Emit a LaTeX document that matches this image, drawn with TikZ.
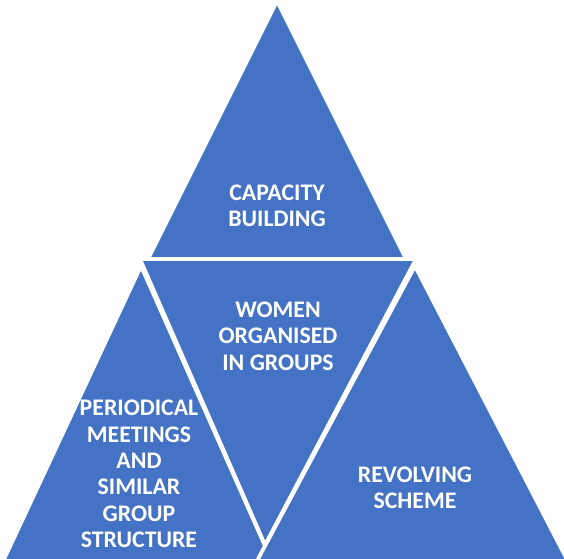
\documentclass[tikz,border=0pt]{standalone}
\usepackage{fontspec}
\setmainfont{Carlito}
\usepackage{tikz}
\usepackage{xcolor}
\definecolor{pyrBlue}{HTML}{4472C4}
\tikzset{myTri/.style={fill=pyrBlue, draw=white, line width=3.8pt, line join=miter}}
\tikzset{myLabel/.style={text=white, align=center, font=\bfseries\fontsize{23.8}{26.3}\selectfont}}

\begin{document}
\begin{tikzpicture}[x=1pt, y=-1pt]

\useasboundingbox (0,0) rectangle (564,558);
\clip (0,0) rectangle (564,558);

% lower left and lower right segments run off the bottom
\filldraw[myTri] (141,266) -- (289,600) -- (-15,600) -- cycle;
\filldraw[myTri] (415,266) -- (588,600) -- (236,600) -- cycle;

% inverted middle segment
\filldraw[myTri] (140,259) -- (416,259) -- (265,545) -- cycle;

% top segment
\filldraw[myTri] (277,1) -- (406,259) -- (148,259) -- cycle;

\node[myLabel] (cap) at (277,206) {CAPACITY\\BUILDING};
\node[myLabel] (women) at (278,336) {WOMEN\\ORGANISED\\IN GROUPS};
\node[myLabel] (meet) at (139,474) {PERIODICAL\\MEETINGS\\AND\\SIMILAR\\GROUP\\STRUCTURE};
\node[myLabel] (revolve) at (415,488) {REVOLVING\\SCHEME};

\end{tikzpicture}
\end{document}
